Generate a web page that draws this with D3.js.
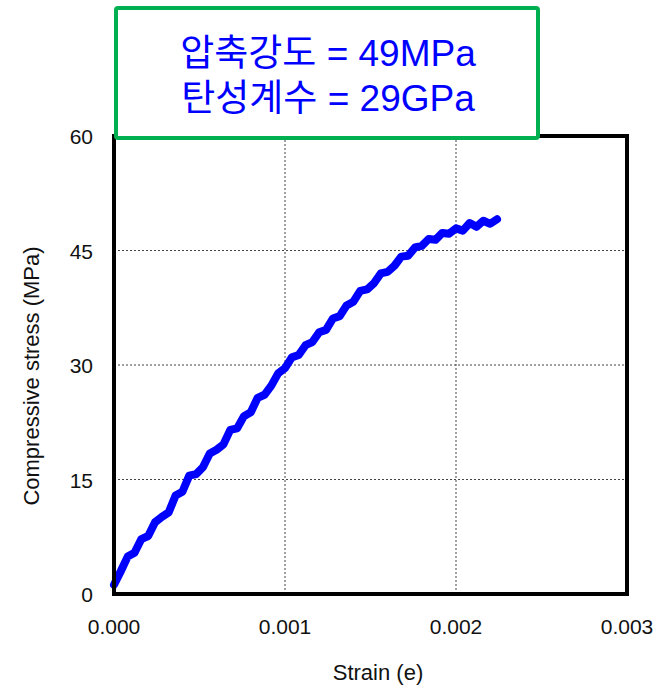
<!DOCTYPE html>
<html lang="ko">
<head>
<meta charset="UTF-8">
<title>Compressive stress - strain</title>
<script src="https://d3js.org/d3.v7.min.js"></script>
<style>
  body { margin: 0; background: #fff; }
  svg { display: block; font-family: "Liberation Sans", Arial, "Noto Sans CJK KR", sans-serif; }
  .grid line { stroke: #444; stroke-width: 1; stroke-dasharray: 2,2; }
  .tick-label { font-size: 21px; fill: #111; }
  .title { font-size: 22px; fill: #111; }
  .note { font-size: 37px; fill: #0000ff; }
</style>
</head>
<body>
<svg id="chart" width="665" height="686"></svg>
<script>
// strain (e) and compressive stress (MPa)
const strain = [0, 0.00004, 0.00008, 0.00012, 0.00016, 0.0002, 0.00024, 0.00028, 0.00032, 0.00036,
  0.0004, 0.00044, 0.00048, 0.00052, 0.00056, 0.0006, 0.00064, 0.00068, 0.00072, 0.00076,
  0.0008, 0.00084, 0.00088, 0.00092, 0.00096, 0.001, 0.00104, 0.00108, 0.00112, 0.00116,
  0.0012, 0.00124, 0.00128, 0.00132, 0.00136, 0.0014, 0.00144, 0.00148, 0.00152, 0.00156,
  0.0016, 0.00164, 0.00168, 0.00172, 0.00176, 0.0018, 0.00184, 0.00188, 0.00192, 0.00196,
  0.002, 0.00204, 0.00208, 0.00212, 0.00216, 0.0022, 0.00224];
const stress = [1.2, 3.0, 4.9, 5.4, 7.2, 7.6, 9.4, 10.1, 10.7, 12.9,
  13.4, 15.5, 15.7, 16.6, 18.4, 18.9, 19.6, 21.5, 21.7, 23.3,
  23.8, 25.7, 26.1, 27.3, 28.9, 29.6, 31.0, 31.3, 32.6, 33.0,
  34.3, 34.6, 36.1, 36.4, 37.8, 38.3, 39.7, 39.9, 40.7, 42.0,
  42.2, 43.0, 44.2, 44.3, 45.4, 45.6, 46.5, 46.4, 47.3, 47.2,
  47.9, 47.6, 48.6, 48.1, 48.9, 48.5, 49.1];

const xTicks = [0, 0.001, 0.002, 0.003];
const yTicks = [0, 15, 30, 45, 60];
const noteLines = ["압축강도 = 49MPa", "탄성계수 = 29GPa"];

const svg = d3.select("#chart");
const pLeft = 114, pRight = 627, pTop = 136, pBottom = 594;

const x = d3.scaleLinear().domain([0, 0.003]).range([pLeft, pRight]);
const y = d3.scaleLinear().domain([0, 60]).range([pBottom, pTop]);

// dotted gridlines
const grid = svg.append("g").attr("class", "grid");
grid.selectAll(".gx").data(xTicks.slice(1, -1)).enter().append("line")
  .attr("x1", d => x(d)).attr("x2", d => x(d))
  .attr("y1", pTop).attr("y2", pBottom);
grid.selectAll(".gy").data(yTicks.slice(1, -1)).enter().append("line")
  .attr("x1", pLeft).attr("x2", pRight)
  .attr("y1", d => y(d)).attr("y2", d => y(d));

// the curve
const line = d3.line().x((d, i) => x(strain[i])).y(d => y(d));
svg.append("path")
  .datum(stress)
  .attr("d", line)
  .attr("fill", "none")
  .attr("stroke", "#0000ff")
  .attr("stroke-width", 8)
  .attr("stroke-linejoin", "round")
  .attr("stroke-linecap", "round");

// frame
svg.append("rect")
  .attr("x", pLeft).attr("y", pTop)
  .attr("width", pRight - pLeft).attr("height", pBottom - pTop)
  .attr("fill", "none").attr("stroke", "#000").attr("stroke-width", 4);

// tick labels
svg.selectAll(".xl").data(xTicks).enter().append("text")
  .attr("class", "tick-label")
  .attr("x", d => x(d)).attr("y", 634)
  .attr("text-anchor", "middle")
  .text(d => d3.format(".3f")(d));
svg.selectAll(".yl").data(yTicks).enter().append("text")
  .attr("class", "tick-label")
  .attr("x", 93).attr("y", d => y(d) + 8)
  .attr("text-anchor", "end")
  .text(d => d);

// axis titles
svg.append("text").attr("class", "title")
  .attr("x", 378).attr("y", 680)
  .attr("text-anchor", "middle")
  .text("Strain (e)");
svg.append("text").attr("class", "title")
  .attr("transform", "translate(39,376) rotate(-90)")
  .attr("text-anchor", "middle")
  .text("Compressive stress (MPa)");

// note box
svg.append("rect")
  .attr("x", 116).attr("y", 8).attr("width", 422).attr("height", 130)
  .attr("rx", 2)
  .attr("fill", "#fff").attr("stroke", "#00b050").attr("stroke-width", 4);
svg.selectAll(".note").data(noteLines).enter().append("text")
  .attr("class", "note")
  .attr("x", 328).attr("y", (d, i) => 66 + i * 45)
  .attr("text-anchor", "middle")
  .text(d => d);
</script>
</body>
</html>
